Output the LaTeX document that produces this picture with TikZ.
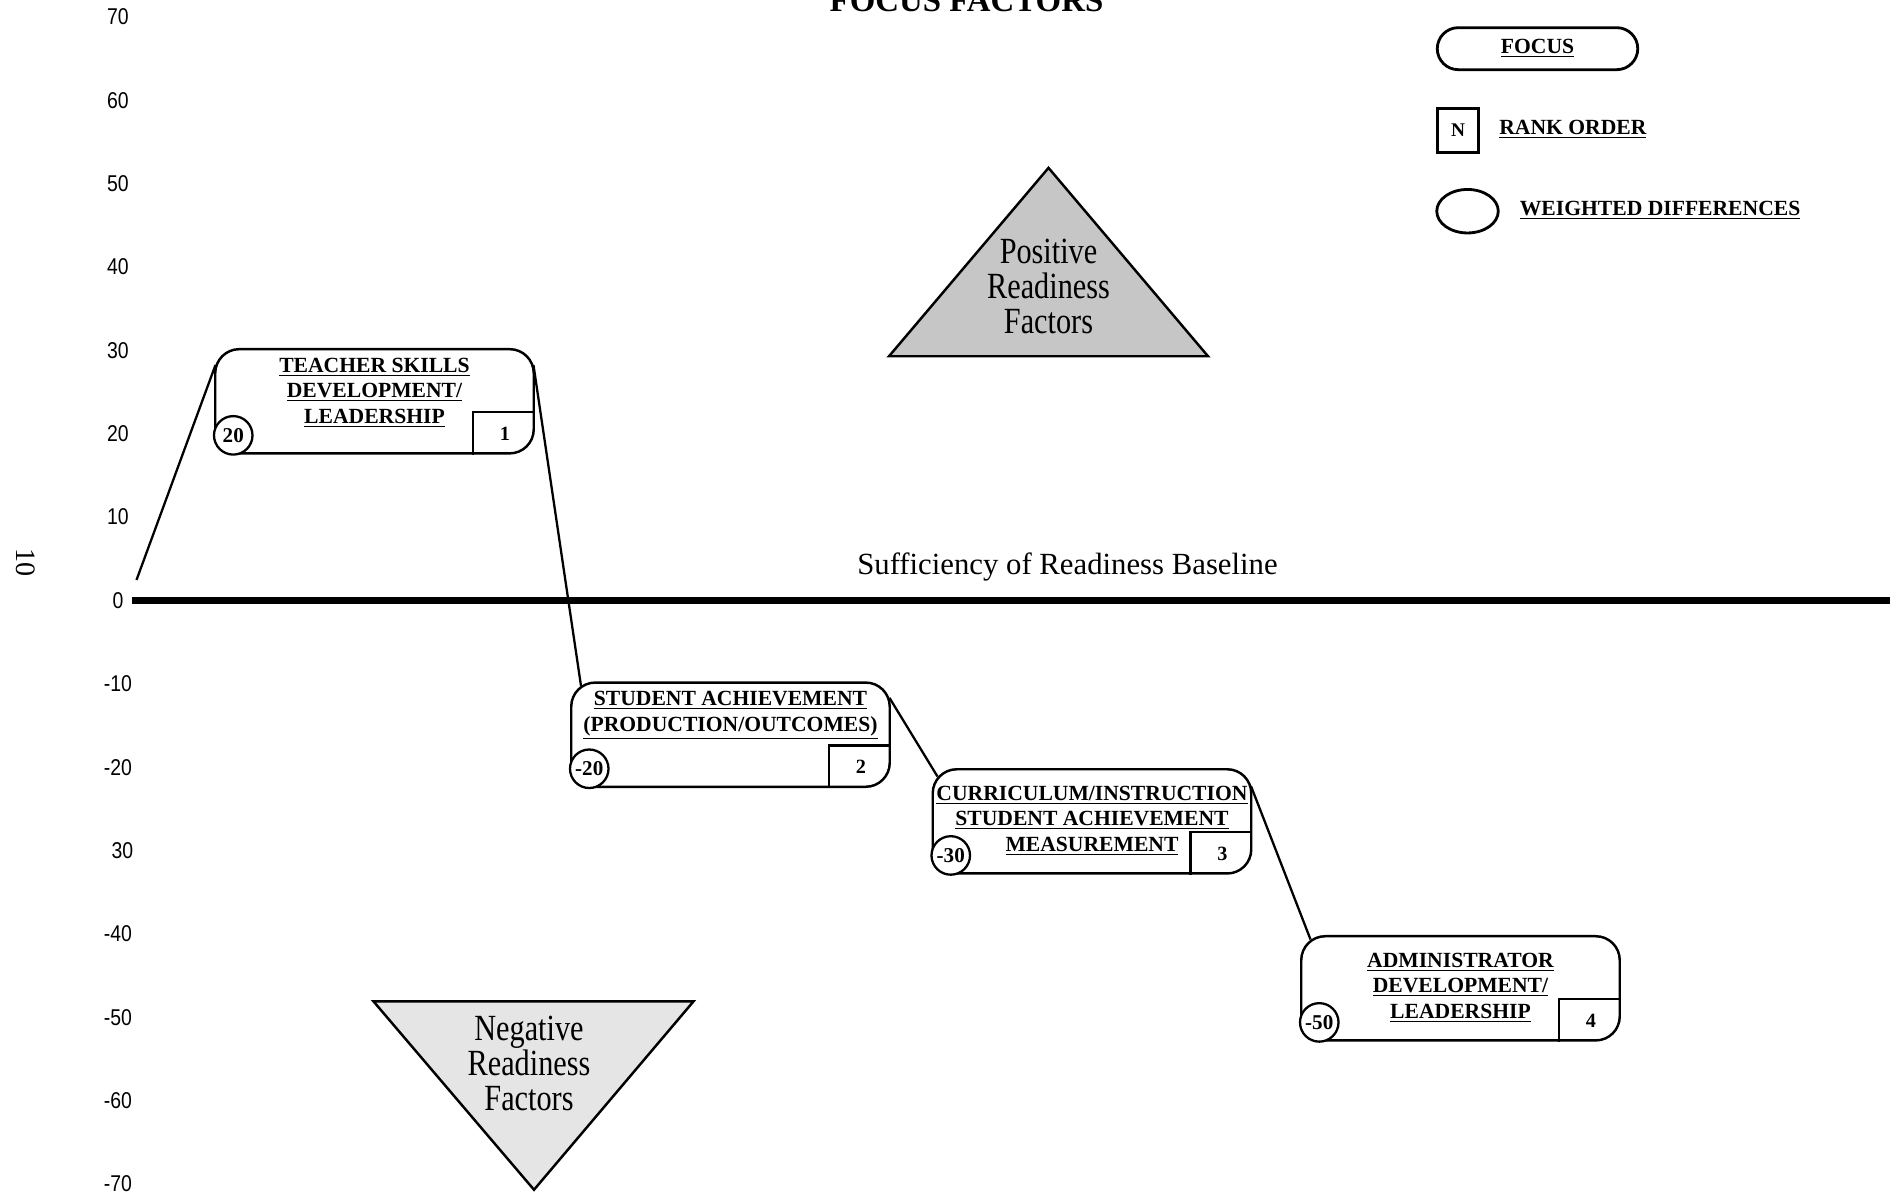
\documentclass[tikz,border=0pt]{standalone}
\usepackage{fontspec}
\setmainfont{Liberation Serif}
\newfontfamily\axisfont[FakeStretch=0.85]{Liberation Sans}
\newfontfamily\narrowserif[FakeStretch=0.82]{Liberation Serif}
\usetikzlibrary{shapes.geometric}

\tikzset{
  focusbox/.style={draw,line width=1.4pt,rounded corners=0.48cm,minimum width=6.37cm,minimum height=2.084cm,inner sep=0pt,anchor=south west},
  focustext/.style={anchor=north,align=center,inner sep=0pt,font=\fontsize{12.3}{14.5}\selectfont\bfseries},
  weightcirc/.style={draw,circle,line width=1.3pt,fill=white,minimum size=0.77cm,inner sep=0pt,font=\fontsize{12}{12}\selectfont\bfseries},
  ranknum/.style={inner sep=0pt,font=\fontsize{11.5}{11.5}\selectfont\bfseries},
  link/.style={line width=1.3pt},
  axislabel/.style={inner sep=0pt,font=\axisfont\fontsize{13}{13}\selectfont},
  keytext/.style={anchor=west,inner sep=0pt,font=\fontsize{12.3}{12.3}\selectfont\bfseries},
  readytext/.style={align=center,inner sep=0pt,font=\narrowserif\fontsize{21}{19.9}\selectfont}
}

\begin{document}
\begin{tikzpicture}[x=1cm,y=0.1667cm]

\def\rankw{1.24cm}
\def\rankh{0.85cm}
\def\circoff{0.385cm}

\useasboundingbox (0,-71.2) rectangle (37.88,72.04);

\node[anchor=base,font=\fontsize{18.7}{18.7}\selectfont\bfseries] (title) at (19.33,70.6) {FOCUS FACTORS};
\node[rotate=-90,font=\fontsize{16}{16}\selectfont] (pagenum) at (0.52,4.5) {10};

\node[axislabel] (l70) at (2.36,70) {70};
\node[axislabel] (l60) at (2.36,60) {60};
\node[axislabel] (l50) at (2.36,50) {50};
\node[axislabel] (l40) at (2.36,40) {40};
\node[axislabel] (l30) at (2.36,30) {30};
\node[axislabel] (l20) at (2.36,20) {20};
\node[axislabel] (l10) at (2.36,10) {10};
\node[axislabel] (l0) at (2.36,0) {0};
\node[axislabel] (lm10) at (2.36,-10) {-10};
\node[axislabel] (lm20) at (2.36,-20) {-20};
\node[axislabel] (lm30) at (2.45,-30) {30};
\node[axislabel] (lm40) at (2.36,-40) {-40};
\node[axislabel] (lm50) at (2.36,-50) {-50};
\node[axislabel] (lm60) at (2.36,-60) {-60};
\node[axislabel] (lm70) at (2.36,-70) {-70};

\draw[line width=4.5pt] (2.63,0) -- (37.8,0);
\node[anchor=base,font=\fontsize{17.5}{17.5}\selectfont] (baseline) at (21.35,3.15) {Sufficiency of Readiness Baseline};

% readiness triangles
\draw[line width=1.4pt,fill=gray!45] (17.78,29.3) -- (20.97,51.9) -- (24.16,29.3) -- cycle;
\node[readytext] (pos) at (20.97,37.7) {Positive\\Readiness\\Factors};
\draw[line width=1.4pt,fill=gray!20] (7.47,-48.1) -- (13.87,-48.1) -- (10.68,-70.7) -- cycle;
\node[readytext] (neg) at (10.58,-55.6) {Negative\\Readiness\\Factors};

% focus boxes
\node[focusbox] (teacher) at (4.28,17.5) {};
\node[focustext] (teacherT) at ([yshift=-0.195cm]teacher.north) {\underline{TEACHER SKILLS}\\\underline{DEVELOPMENT/}\\\underline{LEADERSHIP}};
\node[weightcirc] (teacherW) at ([xshift=\circoff,yshift=\circoff]teacher.south west) {20};
\draw[link] ([xshift=-\rankw]teacher.south east) -- ++(0,\rankh) -- ([yshift=\rankh]teacher.south east);
\node[ranknum] (teacherR) at ([xshift=-0.6cm,yshift=0.425cm]teacher.south east) {1};

\node[focusbox] (student) at (11.40,-22.5) {};
\node[focustext] (studentT) at ([yshift=-0.195cm]student.north) {\underline{STUDENT ACHIEVEMENT}\\\underline{(PRODUCTION/OUTCOMES)}};
\node[weightcirc] (studentW) at ([xshift=\circoff,yshift=\circoff]student.south west) {-20};
\draw[link] ([xshift=-\rankw]student.south east) -- ++(0,\rankh) -- ([yshift=\rankh]student.south east);
\node[ranknum] (studentR) at ([xshift=-0.6cm,yshift=0.425cm]student.south east) {2};

\node[focusbox] (curric) at (18.63,-32.9) {};
\node[focustext] (curricT) at ([yshift=-0.355cm]curric.north) {\underline{CURRICULUM/INSTRUCTION}\\\underline{STUDENT ACHIEVEMENT}\\\underline{MEASUREMENT}};
\node[weightcirc] (curricW) at ([xshift=\circoff,yshift=\circoff]curric.south west) {-30};
\draw[link] ([xshift=-\rankw]curric.south east) -- ++(0,\rankh) -- ([yshift=\rankh]curric.south east);
\node[ranknum] (curricR) at ([xshift=-0.6cm,yshift=0.425cm]curric.south east) {3};

\node[focusbox] (admin) at (26.0,-52.93) {};
\node[focustext] (adminT) at ([yshift=-0.355cm]admin.north) {\underline{ADMINISTRATOR}\\\underline{DEVELOPMENT/}\\\underline{LEADERSHIP}};
\node[weightcirc] (adminW) at ([xshift=\circoff,yshift=\circoff]admin.south west) {-50};
\draw[link] ([xshift=-\rankw]admin.south east) -- ++(0,\rankh) -- ([yshift=\rankh]admin.south east);
\node[ranknum] (adminR) at ([xshift=-0.6cm,yshift=0.425cm]admin.south east) {4};

% connectors
\coordinate (start) at (2.73,2.46);
\draw[link] (start) -- ([xshift=0.03cm,yshift=-0.34cm]teacher.north west);
\draw[link] ([xshift=-0.03cm,yshift=-0.34cm]teacher.north east) -- ([xshift=0.22cm,yshift=-0.09cm]student.north west);
\draw[link] ([xshift=-0.03cm,yshift=-0.33cm]student.north east) -- ([xshift=0.12cm,yshift=-0.17cm]curric.north west);
\draw[link] ([xshift=-0.03cm,yshift=-0.36cm]curric.north east) -- ([xshift=0.21cm,yshift=-0.09cm]admin.north west);

% legend
\node[draw,line width=1.6pt,rounded corners=0.42cm,minimum width=4.01cm,minimum height=0.84cm,font=\fontsize{12.3}{12.3}\selectfont\bfseries] (focuskey) at (30.75,66.2) {\underline{FOCUS}};
\node[draw,line width=1.6pt,minimum width=0.82cm,minimum height=0.87cm,inner sep=0pt,font=\fontsize{11}{11}\selectfont\bfseries] (rankkey) at (29.16,56.4) {N};
\node[keytext] (ranklabel) at (29.98,56.57) {\underline{RANK ORDER}};
\node[draw,ellipse,line width=1.6pt,minimum width=1.23cm,minimum height=0.87cm,inner sep=0pt] (weightkey) at (29.35,46.7) {};
\node[keytext] (weightlabel) at (30.39,46.8) {\underline{WEIGHTED DIFFERENCES}};

\end{tikzpicture}
\end{document}
